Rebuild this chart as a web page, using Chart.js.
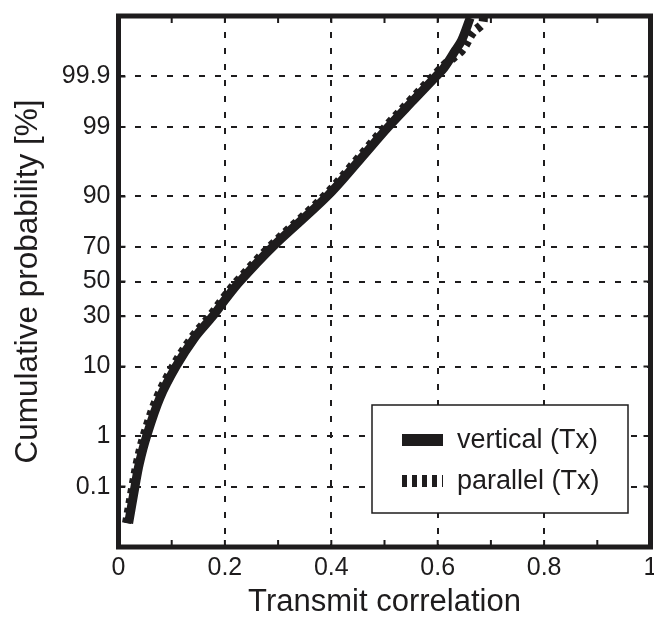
<!DOCTYPE html>
<html>
<head>
<meta charset="utf-8">
<script src="https://cdn.jsdelivr.net/npm/chart.js@4.4.1/dist/chart.umd.min.js"></script>
<style>
  html, body { margin: 0; padding: 0; background: #fff; }
  #wrap { width: 654px; height: 618px; }
</style>
</head>
<body>
<div id="wrap"><canvas id="cdfChart" width="654" height="618"></canvas></div>
<script>
// values: x = transmit correlation, p = cumulative probability [%]
var verticalX = [0.019, 0.031, 0.039, 0.053, 0.078, 0.108, 0.143, 0.177, 0.201, 0.228, 0.290, 0.392, 0.454, 0.507, 0.554, 0.597, 0.612, 0.633, 0.645, 0.661];
var verticalP = [0.0136, 0.1, 0.3, 1, 4, 10, 19.8, 30, 39.4, 50, 70, 90, 96.7, 99, 99.68, 99.9, 99.936, 99.975, 99.986, 99.9964];
var parallelX = [0.015, 0.027, 0.035, 0.048, 0.073, 0.103, 0.138, 0.172, 0.196, 0.223, 0.285, 0.387, 0.449, 0.502, 0.549, 0.592, 0.618, 0.645, 0.666, 0.684, 0.686];
var parallelP = [0.0136, 0.1, 0.3, 1, 4, 10, 19.8, 30, 39.4, 50, 70, 90, 96.7, 99, 99.68, 99.9, 99.952, 99.975, 99.9912, 99.9948, 99.9966];
var seriesNames = ['vertical (Tx)', 'parallel (Tx)'];
var probTicks = [0.1, 1, 10, 30, 50, 70, 90, 99, 99.9];
var probTickLabels = ['0.1', '1', '10', '30', '50', '70', '90', '99', '99.9'];
var corrTicks = [0, 0.2, 0.4, 0.6, 0.8, 1];
var corrTickLabels = ['0', '0.2', '0.4', '0.6', '0.8', '1'];

var FONT = '"Liberation Sans", Arial, Helvetica, sans-serif';
var INK = '#1e1c1d';

// inverse normal cdf (Acklam) -> y position on normal probability paper
function norminv(p) {
    var a = [-3.969683028665376e+01, 2.209460984245205e+02, -2.759285104469687e+02, 1.383577518672690e+02, -3.066479806614716e+01, 2.506628277459239e+00];
    var b = [-5.447609879822406e+01, 1.615858368580409e+02, -1.556989798598866e+02, 6.680131188771972e+01, -1.328068155288572e+01];
    var c = [-7.784894002430293e-03, -3.223964580411365e-01, -2.400758277161838e+00, -2.549732539343734e+00, 4.374664141464968e+00, 2.938163982698783e+00];
    var d = [7.784695709041462e-03, 3.224671290700398e-01, 2.445134137142996e+00, 3.754408661907416e+00];
    var plow = 0.02425, q, r;
    if (p < plow) {
        q = Math.sqrt(-2 * Math.log(p));
        return (((((c[0]*q+c[1])*q+c[2])*q+c[3])*q+c[4])*q+c[5]) / ((((d[0]*q+d[1])*q+d[2])*q+d[3])*q+1);
    }
    if (p <= 1 - plow) {
        q = p - 0.5; r = q * q;
        return (((((a[0]*r+a[1])*r+a[2])*r+a[3])*r+a[4])*r+a[5])*q / (((((b[0]*r+b[1])*r+b[2])*r+b[3])*r+b[4])*r+1);
    }
    q = Math.sqrt(-2 * Math.log(1 - p));
    return -(((((c[0]*q+c[1])*q+c[2])*q+c[3])*q+c[4])*q+c[5]) / ((((d[0]*q+d[1])*q+d[2])*q+d[3])*q+1);
}
function probit(pct) { return norminv(pct / 100); }

function toPoints(xs, ps) {
    return xs.map(function(x, i) { return { x: x, y: probit(ps[i]) }; });
}

// frame, inward tick marks and the boxed legend
var framePlugin = {
    id: 'frame',
    afterDatasetsDraw: function(chart) {
        var ctx = chart.ctx, a = chart.chartArea;
        var xs = chart.scales.x, ys = chart.scales.y;
        ctx.save();
        ctx.strokeStyle = INK;
        ctx.lineWidth = 2;
        ctx.beginPath();
        for (var i = 0; i <= 10; i++) {
            var px = xs.getPixelForValue(i / 10);
            ctx.moveTo(px, a.top); ctx.lineTo(px, a.top + 7);
            ctx.moveTo(px, a.bottom); ctx.lineTo(px, a.bottom - 7);
        }
        ys.ticks.forEach(function(t) {
            var py = ys.getPixelForValue(t.value);
            ctx.moveTo(a.left, py); ctx.lineTo(a.left + 7, py);
            ctx.moveTo(a.right, py); ctx.lineTo(a.right - 7, py);
        });
        ctx.stroke();
        ctx.lineWidth = 5;
        ctx.strokeRect(a.left, a.top, a.right - a.left, a.bottom - a.top);

        // legend box
        var left = a.right - 278.5, top = a.bottom - 142, w = 256, h = 108;
        ctx.fillStyle = '#fff';
        ctx.fillRect(left, top, w, h);
        ctx.lineWidth = 1.5;
        ctx.strokeRect(left, top, w, h);
        ctx.font = '27px ' + FONT;
        ctx.textBaseline = 'middle';
        ctx.textAlign = 'left';
        chart.data.datasets.forEach(function(ds, k) {
            var y = top + 35 + k * 41;
            ctx.strokeStyle = ds.borderColor;
            ctx.lineWidth = 12;
            ctx.lineCap = 'butt';
            ctx.setLineDash(ds.borderDash || []);
            ctx.beginPath();
            ctx.moveTo(left + 30, y); ctx.lineTo(left + 71, y);
            ctx.stroke();
            ctx.setLineDash([]);
            ctx.fillStyle = INK;
            ctx.fillText(ds.label, left + 85, y + 1);
        });
        ctx.restore();
    }
};

var ctx = document.getElementById('cdfChart').getContext('2d');
var cdfChart = new Chart(ctx, {
    type: 'scatter',
    data: {
        datasets: [{
            label: seriesNames[0],
            data: toPoints(verticalX, verticalP),
            showLine: true,
            borderColor: INK,
            borderWidth: 9,
            pointRadius: 0,
            tension: 0.35,
            order: 0
        }, {
            label: seriesNames[1],
            data: toPoints(parallelX, parallelP),
            showLine: true,
            borderColor: INK,
            borderWidth: 9,
            borderDash: [5, 5],
            borderCapStyle: 'butt',
            pointRadius: 0,
            tension: 0.35,
            order: 1
        }]
    },
    options: {
        responsive: false,
        animation: false,
        devicePixelRatio: 1,
        layout: { padding: { top: 16, right: 3.5, left: 0, bottom: 0 } },
        plugins: {
            legend: { display: false },
            tooltip: { enabled: false }
        },
        scales: {
            x: {
                type: 'linear',
                min: 0,
                max: 1,
                afterBuildTicks: function(scale) {
                    scale.ticks = corrTicks.map(function(v) { return { value: v }; });
                },
                afterFit: function(scale) {
                    scale.height = 71;
                    scale.paddingLeft = 0;
                    scale.paddingRight = 0;
                },
                ticks: {
                    color: INK,
                    font: { family: FONT, size: 25 },
                    padding: 6,
                    maxRotation: 0,
                    callback: function(value, index) { return corrTickLabels[index]; }
                },
                grid: { color: INK, lineWidth: 2, drawTicks: false },
                border: { display: false, dash: [6, 10] },
                title: {
                    display: true,
                    text: 'Transmit correlation',
                    color: INK,
                    font: { family: FONT, size: 31, lineHeight: 1 },
                    padding: { top: 0, bottom: 0 }
                }
            },
            y: {
                type: 'linear',
                min: -4,
                max: 4,
                afterBuildTicks: function(scale) {
                    scale.ticks = probTicks.map(function(p) { return { value: probit(p) }; });
                },
                afterFit: function(scale) {
                    scale.width = 118.5;
                    scale.paddingTop = 0;
                    scale.paddingBottom = 0;
                },
                ticks: {
                    color: INK,
                    font: { family: FONT, size: 25 },
                    padding: 8,
                    callback: function(value, index) { return probTickLabels[index]; }
                },
                grid: { color: INK, lineWidth: 2, drawTicks: false },
                border: { display: false, dash: [6, 10] },
                title: {
                    display: true,
                    text: 'Cumulative probability [%]',
                    color: INK,
                    font: { family: FONT, size: 31.5, lineHeight: 1 },
                    padding: { top: 13, bottom: 0 }
                }
            }
        }
    },
    plugins: [framePlugin]
});
</script>
</body>
</html>
